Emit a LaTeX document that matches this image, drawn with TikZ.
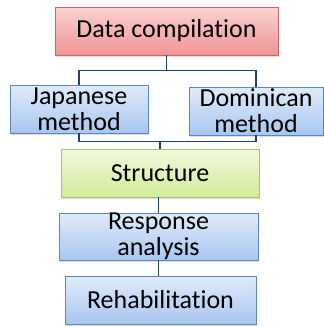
\documentclass[tikz,border=0pt]{standalone}
\usepackage{fontspec}
\setmainfont{Carlito}[Ligatures=NoCommon]
\usetikzlibrary{shadows}

\definecolor{linkblue}{HTML}{1F3F7F}
\definecolor{redtop}{HTML}{FAD2D2}
\definecolor{redbot}{HTML}{F09494}
\definecolor{redline}{HTML}{C86464}
\definecolor{bluetop}{HTML}{E0EBFA}
\definecolor{bluebot}{HTML}{A9C6EF}
\definecolor{blueline}{HTML}{5B86C5}
\definecolor{greentop}{HTML}{F2F9DC}
\definecolor{greenbot}{HTML}{D2EB9A}
\definecolor{greenline}{HTML}{A2C46A}

\tikzset{
    box/.style={draw, line width=0.9pt, inner sep=0pt, align=center,
        font=\fontsize{26}{26}\selectfont,
        drop shadow={shadow xshift=1.2pt, shadow yshift=-1.5pt, opacity=0.25}},
    redbox/.style={box, draw=redline, top color=redtop, bottom color=redbot},
    bluebox/.style={box, draw=blueline, top color=bluetop, bottom color=bluebot},
    greenbox/.style={box, draw=greenline, top color=greentop, bottom color=greenbot},
    link/.style={draw=linkblue, line width=1.5pt}
}

\begin{document}
\begin{tikzpicture}[x=1pt,y=-1pt]
        \useasboundingbox (0,0) rectangle (324,327);

        \node[redbox, minimum width=223pt, minimum height=48pt] (compile) at (166.5,31) {Data compilation};
        \node[bluebox, minimum width=138pt, minimum height=48pt] (japan) at (79,109) {Japanese\\method};
        \node[bluebox, minimum width=134pt, minimum height=48pt] (domin) at (256,111) {Dominican\\method};
        \node[greenbox, minimum width=198pt, minimum height=48pt] (struct) at (160,173) {Structure};
        \node[bluebox, minimum width=199pt, minimum height=47pt] (resp) at (158.5,236.5) {Response\\analysis};
        \node[bluebox, minimum width=191pt, minimum height=48pt] (rehab) at (160.5,300) {Rehabilitation};

        % split and merge of the two methods
        \draw[link] (compile.south) -- ++(0,15) coordinate (split);
        \draw[link] (japan.north) |- (split) -| (domin.north);
        \draw[link] (struct.north) -- ++(0,-7) coordinate (merge);
        \draw[link] (japan.south) |- (merge) -| (domin.south);

        \draw[link] (resp.north) -- (resp.north |- struct.south);
        \draw[link] (rehab.north -| resp.north) -- (resp.south);
    \end{tikzpicture}
\end{document}
